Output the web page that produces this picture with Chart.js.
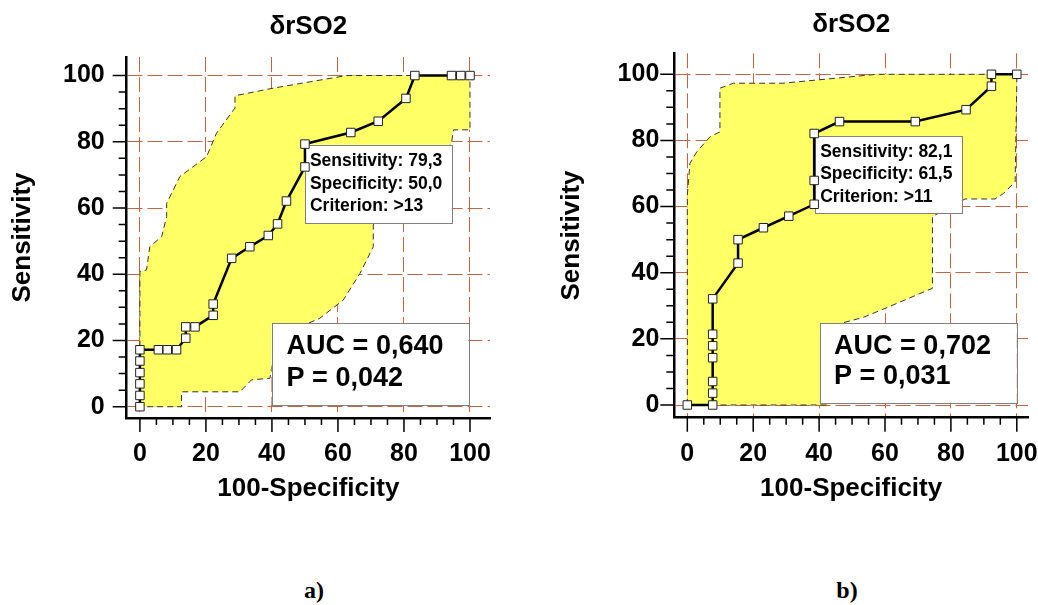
<!DOCTYPE html>
<html>
<head>
<meta charset="utf-8">
<script src="https://cdn.jsdelivr.net/npm/chart.js@4.4.0/dist/chart.umd.min.js"></script>
<style>
  body { margin: 0; background: #fff; width: 1038px; height: 605px; position: relative; overflow: hidden; }
  canvas { position: absolute; top: 0; }
  #rocA { left: 0; }
  #rocB { left: 519px; }
  .cap { position: absolute; top: 577px; font: bold 24px "Liberation Serif", "Times New Roman", serif; transform: translateX(-50%); }
</style>
</head>
<body>
<canvas id="rocA" width="519" height="560"></canvas>
<canvas id="rocB" width="519" height="560"></canvas>
<div class="cap" style="left:314px">a)</div>
<div class="cap" style="left:847px">b)</div>
<script>
// ---- data ----
const tickValues = [0, 20, 40, 60, 80, 100];
const minorStep = 5;

// chart a)
const fprA  = [0, 0, 0, 0, 0, 0, 5.6, 8.3, 11.1, 13.9, 13.9, 16.7, 22.2, 22.2, 27.8, 33.3, 38.9, 41.7, 44.4, 50, 50, 63.9, 72.2, 80.6, 83.3, 94.4, 97.2, 100];
const sensA = [0, 3.4, 6.9, 10.3, 13.8, 17.2, 17.2, 17.2, 17.2, 20.7, 24.1, 24.1, 27.6, 31.0, 44.8, 48.3, 51.7, 55.2, 62.1, 72.4, 79.3, 82.8, 86.2, 93.1, 100, 100, 100, 100];
const bandAx = [0, 0, 2.0, 3.0, 6.6, 8.1, 8.1, 12.1, 20.2, 23.2, 28.8, 28.8, 40.4, 62.6, 100, 100, 95, 94.4, 72, 70.7, 70.7, 66.7, 61.6, 54.5, 41.4, 39.4, 33.8, 30.3, 12.6, 12.6];
const bandAy = [0, 40.8, 41.3, 48.3, 51.4, 57.4, 61.4, 69.5, 75.5, 82.6, 90.2, 93.9, 96.2, 100, 100, 83.6, 83.6, 79.6, 57, 54.9, 48.3, 40.3, 32.2, 26.7, 21.1, 8.6, 8.1, 4.5, 4.5, 0];
const statsA = ['Sensitivity: 79,3', 'Specificity: 50,0', 'Criterion: >13'];
const aucA = ['AUC = 0,640', 'P = 0,042'];

// chart b)
const fprB  = [0, 7.7, 7.7, 7.7, 7.7, 7.7, 7.7, 7.7, 15.4, 15.4, 23.1, 30.8, 38.5, 38.5, 38.5, 46.2, 69.2, 84.6, 92.3, 92.3, 100];
const sensB = [0, 0, 3.6, 7.1, 14.3, 17.9, 21.4, 32.1, 42.9, 50, 53.6, 57.1, 60.7, 67.9, 82.1, 85.7, 85.7, 89.3, 96.4, 100, 100];
const bandBx = [0, 0, 0.8, 2.9, 6.9, 9.9, 9.9, 14, 29, 57.5, 100, 100, 99.5, 96, 93.4, 84.3, 74.4, 74.4, 60, 53.4, 44, 43];
const bandBy = [0, 63.5, 73.1, 76.6, 81.1, 82.6, 95.8, 97.3, 97.3, 100, 100, 97, 67.5, 64, 62.3, 62.3, 57, 35.3, 29.2, 26.5, 24, 0];
const statsB = ['Sensitivity: 82,1', 'Specificity: 61,5', 'Criterion: >11'];
const aucB = ['AUC = 0,702', 'P = 0,031'];

const FONT = '"Liberation Sans", Arial, sans-serif';
const GRID = '#c4643e';

// minor/major tick marks outside the axes
const axisTicks = {
  id: 'axisTicks',
  afterDraw(chart) {
    const { ctx, chartArea: a } = chart;
    const x = chart.scales.x, y = chart.scales.y;
    ctx.save();
    ctx.strokeStyle = '#000';
    ctx.lineWidth = 1.5;
    ctx.beginPath();
    for (let v = 0; v <= 100; v += minorStep) {
      const major = v % 20 === 0;
      const px = x.getPixelForValue(v), py = y.getPixelForValue(v);
      ctx.moveTo(px, a.bottom);
      ctx.lineTo(px, a.bottom + (major ? 14 : 7));
      ctx.moveTo(a.left, py);
      ctx.lineTo(a.left - (major ? 14 : 8), py);
    }
    ctx.stroke();
    ctx.restore();
  }
};

// text boxes, drawn right after the confidence band
const rocBoxes = {
  id: 'rocBoxes',
  afterDatasetDraw(chart, args, opts) {
    if (args.index !== 1) return;
    const { ctx } = chart;
    const x = chart.scales.x, y = chart.scales.y;
    ctx.save();
    opts.boxes.forEach(b => {
      const l = x.getPixelForValue(b.x0), r = x.getPixelForValue(b.x1);
      const t = y.getPixelForValue(b.y0), btm = y.getPixelForValue(b.y1);
      ctx.fillStyle = '#fff';
      ctx.fillRect(l, t, r - l, btm - t);
      ctx.strokeStyle = '#808080';
      ctx.lineWidth = 1;
      ctx.strokeRect(Math.round(l) + 0.5, Math.round(t) + 0.5, Math.round(r - l), Math.round(btm - t));
      ctx.fillStyle = '#000';
      ctx.font = 'bold ' + b.size + 'px ' + FONT;
      ctx.textBaseline = 'middle';
      ctx.textAlign = 'left';
      b.lines.forEach((s, i) => ctx.fillText(s, l + b.padX, t + b.firstY + i * b.gap));
    });
    ctx.restore();
  }
};

function points(xs, ys) {
  return xs.map((v, i) => ({ x: v, y: ys[i] }));
}

function rocChart(id, d, lay) {
  const band = points(d.bandX, d.bandY);
  band.push({ x: d.bandX[0], y: d.bandY[0] });
  return new Chart(document.getElementById(id), {
    type: 'scatter',
    data: {
      datasets: [
        {
          label: 'ROC',
          data: points(d.fpr, d.sens),
          showLine: true,
          borderColor: '#000',
          borderWidth: 2.5,
          pointStyle: 'rect',
          pointRadius: 6,
          pointBackgroundColor: '#fff',
          pointBorderColor: '#222',
          pointBorderWidth: 1,
          order: 1
        },
        {
          label: '95% CI',
          data: band,
          showLine: true,
          fill: 'shape',
          backgroundColor: '#ffff66',
          borderColor: '#333',
          borderWidth: 1,
          borderDash: [6, 4],
          pointRadius: 0,
          order: 2
        }
      ]
    },
    options: {
      responsive: false,
      animation: false,
      layout: { padding: { left: 0, right: lay.padRight, top: 0, bottom: 0 } },
      plugins: {
        legend: { display: false },
        tooltip: { enabled: false },
        title: {
          display: true,
          text: 'δrSO2',
          fullSize: false,
          color: '#000',
          font: { family: FONT, size: 26, weight: 'bold' },
          padding: { top: lay.titleTop, bottom: lay.titleBottom }
        },
        rocBoxes: { boxes: d.boxes }
      },
      scales: {
        x: {
          type: 'linear',
          min: lay.xMin, max: lay.xMax,
          afterBuildTicks: s => { s.ticks = tickValues.map(v => ({ value: v })); },
          afterFit: s => { s.height = lay.xAxisH; s.paddingLeft = 0; s.paddingRight = 0; },
          ticks: { color: '#000', font: { family: FONT, size: 25, weight: 'bold' }, padding: lay.xTickPad, maxRotation: 0, autoSkip: false },
          grid: { color: GRID, lineWidth: 1, drawTicks: false },
          border: { display: true, color: '#000', width: 2.5, dash: [15, 5] },
          title: { display: true, text: '100-Specificity', color: '#000', font: { family: FONT, size: 26, weight: 'bold' }, padding: { top: 0, bottom: lay.xTitlePad } }
        },
        y: {
          type: 'linear',
          min: lay.yMin, max: lay.yMax,
          afterBuildTicks: s => { s.ticks = tickValues.map(v => ({ value: v })); },
          afterFit: s => { s.width = lay.yAxisW; s.paddingTop = 0; s.paddingBottom = 0; },
          ticks: { color: '#000', font: { family: FONT, size: 25, weight: 'bold' }, padding: lay.yTickPad, autoSkip: false },
          grid: { color: GRID, lineWidth: 1, drawTicks: false },
          border: { display: true, color: '#000', width: 2.5, dash: [15, 5] },
          title: { display: true, text: 'Sensitivity', color: '#000', font: { family: FONT, size: 26, weight: 'bold' }, padding: { top: lay.yTitlePad, bottom: 0 } }
        }
      }
    },
    plugins: [axisTicks, rocBoxes]
  });
}

rocChart('rocA', {
  fpr: fprA, sens: sensA, bandX: bandAx, bandY: bandAy,
  boxes: [
    { x0: 50, x1: 94.5, y0: 79.1, y1: 55.4, lines: statsA, size: 17.5, padX: 5, firstY: 16.5, gap: 22.5 },
    { x0: 39.9, x1: 99.5, y0: 25.2, y1: 0.5, lines: aucA, size: 27, padX: 15, firstY: 23.5, gap: 31.5 }
  ]
}, {
  xMin: -4, xMax: 106.06, yMin: -3.41, yMax: 105.6,
  padRight: 29, titleTop: 11, titleBottom: 14.8,
  xAxisH: 142, yAxisW: 126.7,
  xTickPad: 21, yTickPad: 22, xTitlePad: 55.4, yTitlePad: 7.7
});

rocChart('rocB', {
  fpr: fprB, sens: sensB, bandX: bandBx, bandY: bandBy,
  boxes: [
    { x0: 38.8, x1: 83.3, y0: 81.3, y1: 58, lines: statsB, size: 17.5, padX: 5, firstY: 15.7, gap: 22.5 },
    { x0: 40.3, x1: 100, y0: 24.7, y1: 0.5, lines: aucB, size: 27, padX: 14, firstY: 23.5, gap: 30 }
  ]
}, {
  xMin: -3.95, xMax: 103.4, yMin: -3.84, yMax: 106.35,
  padRight: 10, titleTop: 9, titleBottom: 13.1,
  xAxisH: 142.3, yAxisW: 155.3,
  xTickPad: 21.3, yTickPad: 15, xTitlePad: 55.4, yTitlePad: 37.4
});
</script>
</body>
</html>
